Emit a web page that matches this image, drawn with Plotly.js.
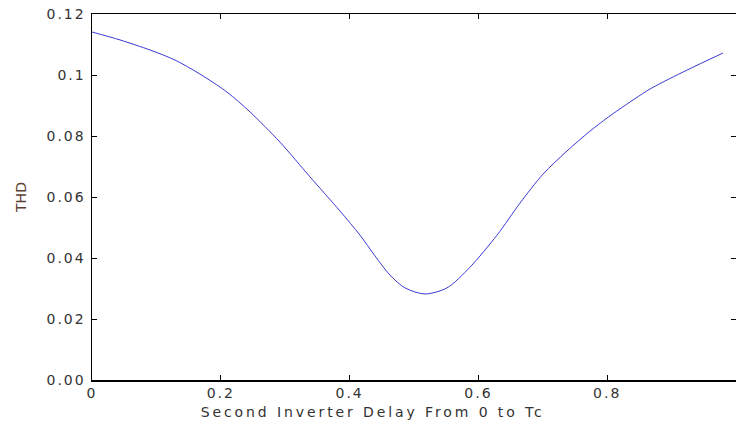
<!DOCTYPE html>
<html>
<head>
<meta charset="utf-8">
<script src="https://cdn.plot.ly/plotly-3.0.1.min.js"></script>
<style>
html,body{margin:0;padding:0;background:#fff;}
#chart{width:736px;height:430px;}
#chart .xtick text, #chart .ytick text{letter-spacing:2px;}
#chart text.annotation-text{letter-spacing:2.9px;}
</style>
</head>
<body>
<div id="chart"></div>
<script>
// Second inverter delay (fraction of Tc)
const delay = [0, 0.0435, 0.0901, 0.1289, 0.1677, 0.2096, 0.2453, 0.2919, 0.3385, 0.3851, 0.4161, 0.4394, 0.4627, 0.4860, 0.5171, 0.5512, 0.5870, 0.6289, 0.6646, 0.7003, 0.7376, 0.7733, 0.7997, 0.8199, 0.8665, 0.9239, 0.9798];
// Total harmonic distortion
const thd = [0.1141, 0.1115, 0.1082, 0.1049, 0.1003, 0.0944, 0.0879, 0.0780, 0.0666, 0.0554, 0.0475, 0.0407, 0.0344, 0.0302, 0.0282, 0.0302, 0.0370, 0.0475, 0.0580, 0.0675, 0.0751, 0.0816, 0.0859, 0.0889, 0.0954, 0.1016, 0.1072];

const xTickVals = [0, 0.2, 0.4, 0.6, 0.8, 1];
const xTickText = ['0', '0.2', '0.4', '0.6', '0.8', '1'];
const yTickVals = [0, 0.02, 0.04, 0.06, 0.08, 0.1, 0.12];
const yTickText = ['0.00', '0.02', '0.04', '0.06', '0.08', '0.1', '0.12'];
const xTitle = 'Second Inverter Delay From 0 to Tc';
const yTitle = 'THD';

const font = {family: 'DejaVu Sans, Verdana, sans-serif', size: 14, color: '#333'};

Plotly.newPlot('chart', [{
  x: delay, y: thd, type: 'scatter', mode: 'lines',
  line: {color: '#3a3ad4', width: 1, shape: 'spline', smoothing: 0.8},
  hoverinfo: 'skip'
}], {
  width: 736, height: 430,
  margin: {l: 92, r: 0, t: 14, b: 50},
  paper_bgcolor: '#fff', plot_bgcolor: '#fff',
  showlegend: false,
  font: font,
  xaxis: {
    range: [0, 1], tickvals: xTickVals, ticktext: xTickText,
    ticks: 'inside', ticklen: 5, tickcolor: '#000',
    showline: true, linecolor: '#000', linewidth: 1.5, mirror: 'ticks',
    showgrid: false, zeroline: false,
    tickfont: font
  },
  yaxis: {
    range: [0, 0.12], tickvals: yTickVals, ticktext: yTickText,
    ticks: 'inside', ticklen: 5, tickcolor: '#000',
    showline: true, linecolor: '#000', linewidth: 1.5, mirror: 'ticks',
    showgrid: false, zeroline: false,
    tickfont: font, ticklabelstandoff: 2,
    title: {text: yTitle, font: {family: font.family, size: 14, color: '#5a4030'}, standoff: 24}
  },
  annotations: [{
    text: xTitle, xref: 'paper', yref: 'paper',
    x: 0.4356, y: -0.0874, xanchor: 'center', yanchor: 'middle',
    showarrow: false, font: font
  }]
}, {staticPlot: true});
</script>
</body>
</html>
